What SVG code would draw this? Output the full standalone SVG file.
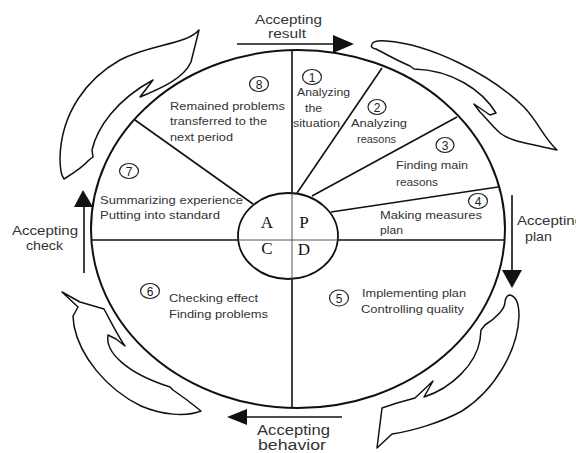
<svg xmlns="http://www.w3.org/2000/svg" width="576" height="453" viewBox="0 0 576 453">
<style>
.ln{stroke:#111;stroke-width:1.6;fill:none}
.sw{stroke:#111;stroke-width:1.5;fill:#fff;stroke-linejoin:round}
.t{font-family:"Liberation Sans",Arial,sans-serif;font-size:11px;fill:#333}
.lb{font-family:"Liberation Sans",Arial,sans-serif;font-size:13px;fill:#333}
.big{font-family:"Liberation Serif","Times New Roman",serif;font-size:17px;fill:#111;text-anchor:middle}
.cn{fill:none;stroke:#222;stroke-width:1.2}
.cd{font-family:"Liberation Sans",Arial,sans-serif;font-size:12px;fill:#222;text-anchor:middle}
</style>
<rect width="576" height="453" fill="#fff"/>
<g id="swooshes">
<path id="sw-topleft" class="sw" d="M199,30 C186,45 150,44 120,60 C88,78 61,112 60,158 Q60,174 64,179 C72,174 84,166 89,160 L93,157 L92,150 C97,128 116,100 153,80 L140,97 C162,88 184,78 191,62 Z"/>
<path id="sw-topright" class="sw" d="M372,44 Q374,40 386,41 C430,44 490,74 524,107 C539,123 543,137 557,150 L543,147 C526,143 510,141 500,133 C492,126 486,118 480,112 L474,104 L490,115 L496,113 C482,90 452,70 414,69 L410,66 C396,60 384,53 376,49 Q370,48 372,44 Z"/>
<path id="sw-bottomright" class="sw" d="M510,295 Q519,297 519,316 C518,350 495,390 462,411 C440,423 412,431 392,434 L377,448 L382,408 L397,403 L415,398 L433,381 L424,397 C452,388 476,364 480,340 L481,330 L485,325 C496,318 505,309 505,302 Q506,295 510,295 Z"/>
<path id="sw-bottomleft" class="sw" d="M62,292 L80,302 L104,309 C110,320 118,336 125,346 L116,339 L108,335 C105,352 126,373 170,387 L173,390 L187,400 L201,411 C186,417 162,415 141,406 C106,389 80,356 74,326 L73,316 L78,307 Z"/>
</g>
<g id="connectors">
<ellipse id="outer-circle" class="ln" cx="298" cy="229" rx="207" ry="179" style="stroke-width:2"/>
<line class="ln" x1="292" y1="50" x2="292" y2="407"/>
<line class="ln" x1="91" y1="240" x2="505" y2="240"/>
<line class="ln" x1="382" y1="68" x2="297" y2="193"/>
<line class="ln" x1="457" y1="117" x2="312" y2="196"/>
<line class="ln" x1="498" y1="187" x2="331" y2="212"/>
<line class="ln" x1="135" y1="120" x2="253" y2="204"/>
<line class="ln" x1="237" y1="44" x2="336" y2="44"/>
<polygon points="333,35 354,44 333,53" fill="#111"/>
<line class="ln" x1="512" y1="195" x2="512" y2="272"/>
<polygon points="502,270 522,270 512,288" fill="#111"/>
<line class="ln" x1="244" y1="417" x2="342" y2="417"/>
<polygon points="227,417 247,409 247,425" fill="#111"/>
<line class="ln" x1="84" y1="205" x2="84" y2="273"/>
<polygon points="83,190 74,207 93,207" fill="#111"/>
</g>
<g id="center">
<ellipse cx="288" cy="236" rx="50" ry="43" fill="#fff" stroke="#111" stroke-width="1.8"/>
<line x1="292" y1="193" x2="292" y2="279" stroke="#555" stroke-width="1"/>
<line x1="238" y1="240" x2="338" y2="240" stroke="#555" stroke-width="1"/>
<text class="big" x="267" y="228">A</text>
<text class="big" x="304" y="228">P</text>
<text class="big" x="267" y="254">C</text>
<text class="big" x="304" y="255">D</text>
</g>
<g id="step8">
<ellipse class="cn" cx="259" cy="84" rx="9.5" ry="7.5"/><text class="cd" x="259" y="88.5">8</text>
<text class="t" x="170" y="110" textLength="115" lengthAdjust="spacingAndGlyphs">Remained problems</text>
<text class="t" x="170" y="125" textLength="97" lengthAdjust="spacingAndGlyphs">transferred to the</text>
<text class="t" x="170" y="141" textLength="63" lengthAdjust="spacingAndGlyphs">next period</text>
</g>
<g id="step1">
<ellipse class="cn" cx="312" cy="77" rx="9.5" ry="7.5"/><text class="cd" x="312" y="81.5">1</text>
<text class="t" x="297" y="96" textLength="53" lengthAdjust="spacingAndGlyphs">Analyzing</text>
<text class="t" x="305" y="112" textLength="17" lengthAdjust="spacingAndGlyphs">the</text>
<text class="t" x="293" y="127" textLength="47" lengthAdjust="spacingAndGlyphs">situation</text>
</g>
<g id="step2">
<ellipse class="cn" cx="377" cy="107" rx="9" ry="7.5"/><text class="cd" x="377" y="111.5">2</text>
<text class="t" x="351" y="127" textLength="56" lengthAdjust="spacingAndGlyphs">Analyzing</text>
<text class="t" x="357" y="143" textLength="39" lengthAdjust="spacingAndGlyphs">reasons</text>
</g>
<g id="step3">
<ellipse class="cn" cx="445" cy="145" rx="9" ry="7.5"/><text class="cd" x="445" y="149.5">3</text>
<text class="t" x="396" y="169" textLength="72" lengthAdjust="spacingAndGlyphs">Finding main</text>
<text class="t" x="396" y="186" textLength="42" lengthAdjust="spacingAndGlyphs">reasons</text>
</g>
<g id="step4">
<ellipse class="cn" cx="478" cy="201" rx="9.5" ry="7.5"/><text class="cd" x="478" y="205.5">4</text>
<text class="t" x="380" y="219" textLength="102" lengthAdjust="spacingAndGlyphs">Making measures</text>
<text class="t" x="380" y="234" textLength="23" lengthAdjust="spacingAndGlyphs">plan</text>
</g>
<g id="step5">
<ellipse class="cn" cx="339" cy="298" rx="9.5" ry="8"/><text class="cd" x="339" y="302.5">5</text>
<text class="t" x="362" y="297" textLength="104" lengthAdjust="spacingAndGlyphs">Implementing plan</text>
<text class="t" x="361" y="313" textLength="103" lengthAdjust="spacingAndGlyphs">Controlling quality</text>
</g>
<g id="step6">
<ellipse class="cn" cx="150" cy="291" rx="9.5" ry="7.5"/><text class="cd" x="150" y="295.5">6</text>
<text class="t" x="169" y="302" textLength="89" lengthAdjust="spacingAndGlyphs">Checking effect</text>
<text class="t" x="169" y="318" textLength="99" lengthAdjust="spacingAndGlyphs">Finding problems</text>
</g>
<g id="step7">
<ellipse class="cn" cx="129" cy="171" rx="9.5" ry="7.5"/><text class="cd" x="129" y="175.5">7</text>
<text class="t" x="100" y="204" textLength="143" lengthAdjust="spacingAndGlyphs">Summarizing experience</text>
<text class="t" x="100" y="219" textLength="120" lengthAdjust="spacingAndGlyphs">Putting into standard</text>
</g>
<g id="label-result">
<text class="lb" x="255" y="24" textLength="67" lengthAdjust="spacingAndGlyphs">Accepting</text>
<text class="lb" x="268" y="38" textLength="38" lengthAdjust="spacingAndGlyphs">result</text>
</g>
<g id="label-plan">
<text class="lb" x="517" y="225" textLength="66" lengthAdjust="spacingAndGlyphs">Accepting</text>
<text class="lb" x="525" y="241" textLength="27" lengthAdjust="spacingAndGlyphs">plan</text>
</g>
<g id="label-behavior">
<text class="lb" x="257" y="435" textLength="73" lengthAdjust="spacingAndGlyphs" style="font-size:14px">Accepting</text>
<text class="lb" x="258" y="450" textLength="68" lengthAdjust="spacingAndGlyphs" style="font-size:14px">behavior</text>
</g>
<g id="label-check">
<text class="lb" x="12" y="235" textLength="66" lengthAdjust="spacingAndGlyphs">Accepting</text>
<text class="lb" x="26" y="250" textLength="37" lengthAdjust="spacingAndGlyphs">check</text>
</g>
</svg>
